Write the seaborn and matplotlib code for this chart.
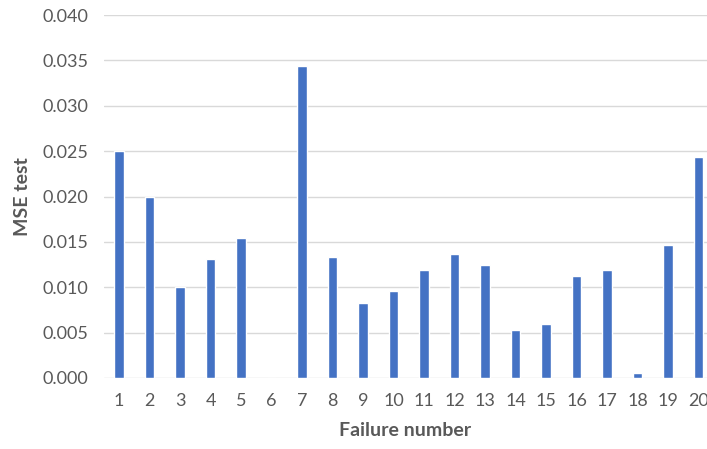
import matplotlib
matplotlib.use("Agg")
import matplotlib.pyplot as plt
import seaborn as sns
import pandas as pd

# Test MSE for each failure case
failure_numbers = [str(i) for i in range(1, 21)]
mse_test = [0.0250, 0.0199, 0.0100, 0.0131, 0.0154, 0.0000, 0.0344, 0.0133,
            0.0083, 0.0096, 0.0119, 0.0137, 0.0124, 0.0053, 0.0060, 0.0112,
            0.0119, 0.0005, 0.0147, 0.0244]
y_ticks = [0.000, 0.005, 0.010, 0.015, 0.020, 0.025, 0.030, 0.035, 0.040]

df = pd.DataFrame({"Failure number": failure_numbers, "MSE test": mse_test})

sns.set_theme(style="white")
plt.rcParams["font.family"] = ["Lato", "DejaVu Sans"]

fig = plt.figure(figsize=(7.07, 4.49), dpi=100)
ax = fig.add_axes([103.75 / 707, 1 - 378 / 449, (707 - 103.75) / 707, 363 / 449])

sns.barplot(data=df, x="Failure number", y="MSE test", color="#4472C4",
            saturation=1, width=0.31, ax=ax, zorder=3)

ax.set_ylim(0, 0.04)
ax.set_xlim(-0.5, -0.5 + (707 - 103.75) / 30.5)
ax.set_yticks(y_ticks)
ax.set_yticklabels([f"{v:.3f}" for v in y_ticks])
ax.yaxis.grid(True, color="#D9D9D9", linewidth=1.0, zorder=0)
ax.xaxis.grid(False)
for s in ax.spines.values():
    s.set_visible(False)
ax.tick_params(axis="both", length=0, labelsize=13, labelcolor="#595959")
ax.tick_params(axis="x", pad=11)
ax.tick_params(axis="y", pad=11)

ax.set_xlabel("Failure number", fontsize=14, fontweight="bold", color="#595959", labelpad=9)
ax.set_ylabel("MSE test", fontsize=14, fontweight="bold", color="#595959", labelpad=8)

fig.savefig("out.png", dpi=100)
